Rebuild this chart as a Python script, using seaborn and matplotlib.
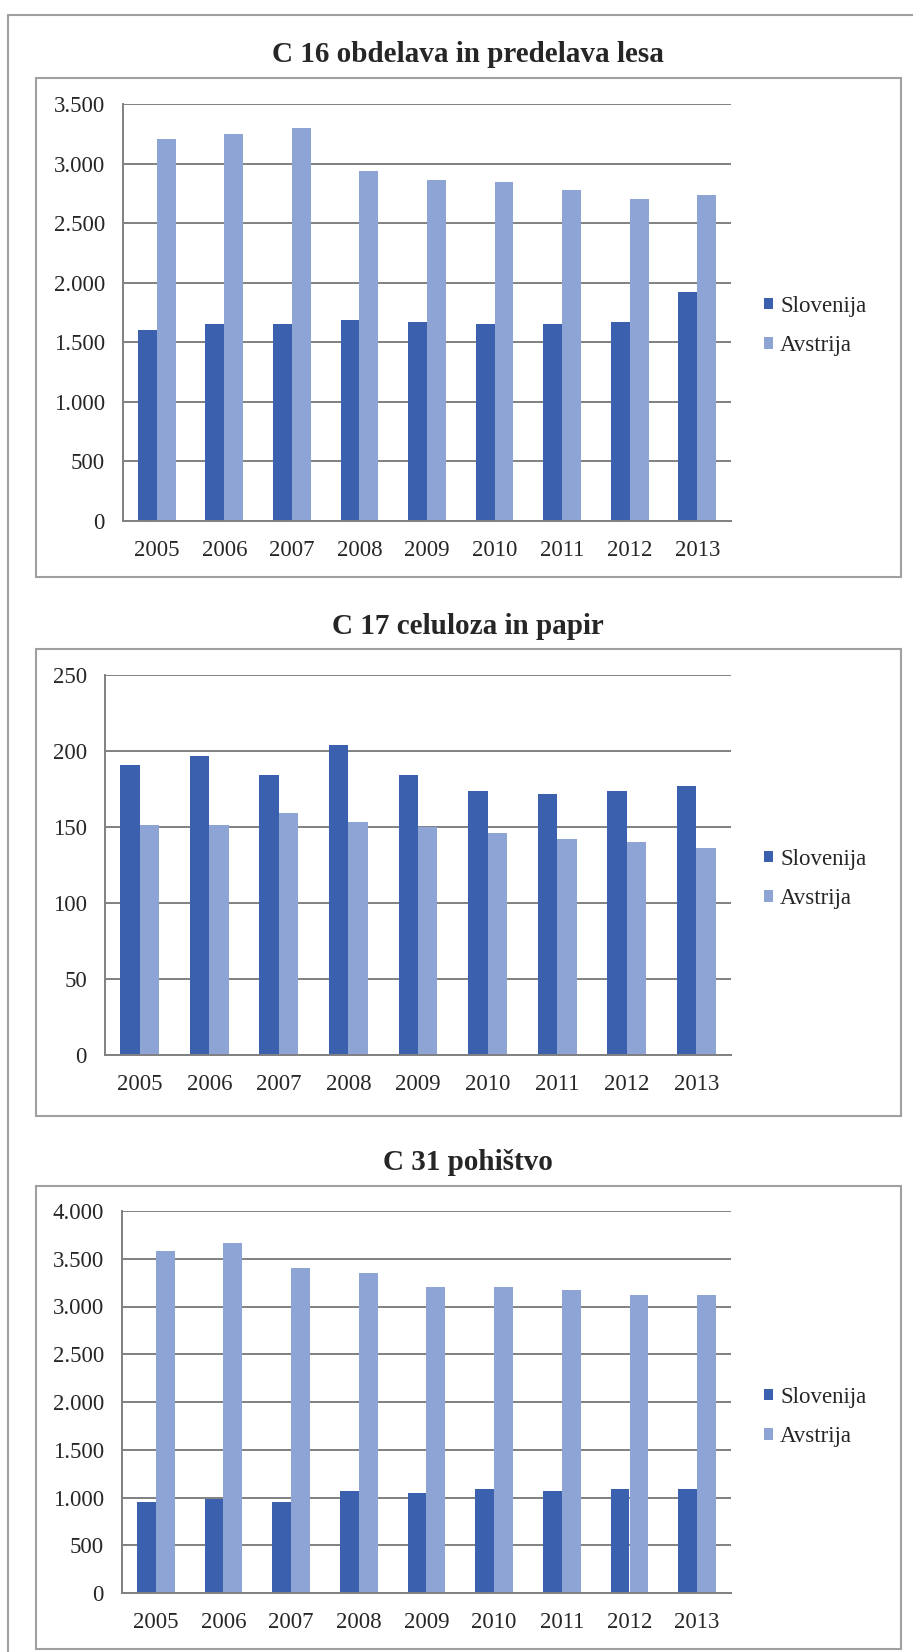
import matplotlib
matplotlib.use("Agg")
import matplotlib.pyplot as plt
import seaborn as sns
import pandas as pd
from matplotlib.patches import Rectangle
from matplotlib.lines import Line2D
from matplotlib.ticker import FuncFormatter, MultipleLocator

# Podatki (odčitani s slike)
leta = [2005, 2006, 2007, 2008, 2009, 2010, 2011, 2012, 2013]
drzave = ["Slovenija", "Avstrija"]

c16_slo = [1600, 1650, 1650, 1690, 1670, 1650, 1650, 1670, 1925]
c16_avt = [3210, 3245, 3300, 2940, 2865, 2845, 2775, 2705, 2740]

c17_slo = [191, 197, 184, 204, 184, 174, 172, 174, 177]
c17_avt = [151.5, 151.5, 159, 153, 150, 146, 142, 140, 136]

c31_slo = [950, 985, 950, 1065, 1045, 1090, 1065, 1090, 1090]
c31_avt = [3580, 3665, 3400, 3350, 3200, 3200, 3175, 3125, 3125]

naslovi = ["C 16 obdelava in predelava lesa", "C 17 celuloza in papir", "C 31 pohištvo"]
ymax = [3500, 250, 4000]
ykorak = [500, 50, 500]

barve = ["#3A60AE", "#8EA4D4"]

sns.set_theme(style="white")
plt.rcParams["font.family"] = ["Liberation Serif", "DejaVu Serif"]

W, H = 913, 1652
fig = plt.figure(figsize=(W / 100, H / 100), dpi=100)
fig.patch.set_facecolor("white")


def fx(x):
    return x / W


def fy(y):
    return 1 - y / H


# Zunanji okvir
fig.add_artist(Line2D([fx(8), fx(8)], [fy(15), 0], color="#a0a0a0", lw=1.5))
fig.add_artist(Line2D([fx(8), 1], [fy(15), fy(15)], color="#a0a0a0", lw=1.5))

# (levo, desno, zgoraj-graf, spodaj-graf, okvir-zgoraj, okvir-spodaj, naslov-y, legenda-y)
postavitve = [
    (123, 731, 104, 521, 78, 577, 55, 326),
    (105, 731, 675, 1055, 649, 1116, 627, 879),
    (122, 731, 1211, 1593, 1186, 1649, 1162, 1417),
]

podatki = [(c16_slo, c16_avt), (c17_slo, c17_avt), (c31_slo, c31_avt)]

for i, (slo, avt) in enumerate(podatki):
    l, r, t, b, bt, bb, ty, ly = postavitve[i]

    # okvir grafa
    fig.add_artist(Rectangle((fx(36), fy(bb)), fx(901) - fx(36), fy(bt) - fy(bb),
                             fill=False, edgecolor="#a0a0a0", lw=1.5))
    fig.text(fx(468), fy(ty), naslovi[i], ha="center", va="center",
             fontsize=21, fontweight="bold")

    df = pd.DataFrame({
        "leto": [str(x) for x in leta] * 2,
        "vrednost": slo + avt,
        "drzava": [drzave[0]] * len(leta) + [drzave[1]] * len(leta),
    })

    ax = fig.add_axes([fx(l), fy(b), fx(r) - fx(l), fy(t) - fy(b)])
    sns.barplot(data=df, x="leto", y="vrednost", hue="drzava", palette=barve,
                width=0.56, gap=0, saturation=1, ax=ax, errorbar=None,
                linewidth=0, edgecolor="none")
    ax.set_ylim(0, ymax[i])
    ax.set_xlim(-0.5, len(leta) - 0.5)
    ax.yaxis.set_major_locator(MultipleLocator(ykorak[i]))
    ax.yaxis.set_major_formatter(FuncFormatter(lambda v, p: f"{v:,.0f}".replace(",", ".")))
    ax.set_xlabel("")
    ax.set_ylabel("")
    ax.set_axisbelow(True)
    ax.grid(axis="y", color="#808080", lw=1.4)
    ax.grid(axis="x", visible=False)
    for s in ["top", "right"]:
        ax.spines[s].set_visible(False)
    for s in ["left", "bottom"]:
        ax.spines[s].set_color("#808080")
        ax.spines[s].set_linewidth(1.4)
    ax.tick_params(axis="y", length=0, pad=13, labelsize=16.5)
    ax.tick_params(axis="x", length=0, pad=14, labelsize=16.5)

    handles, labels = ax.get_legend_handles_labels()
    ax.get_legend().remove()
    fig.legend(handles, labels, loc="center left",
               bbox_to_anchor=(fx(764), fy(ly)), bbox_transform=fig.transFigure,
               frameon=False, fontsize=16.5, handlelength=0.4, handleheight=0.4,
               handletextpad=0.3, labelspacing=0.8, borderaxespad=0, borderpad=0)

fig.savefig("out.png", dpi=100, facecolor="white")
